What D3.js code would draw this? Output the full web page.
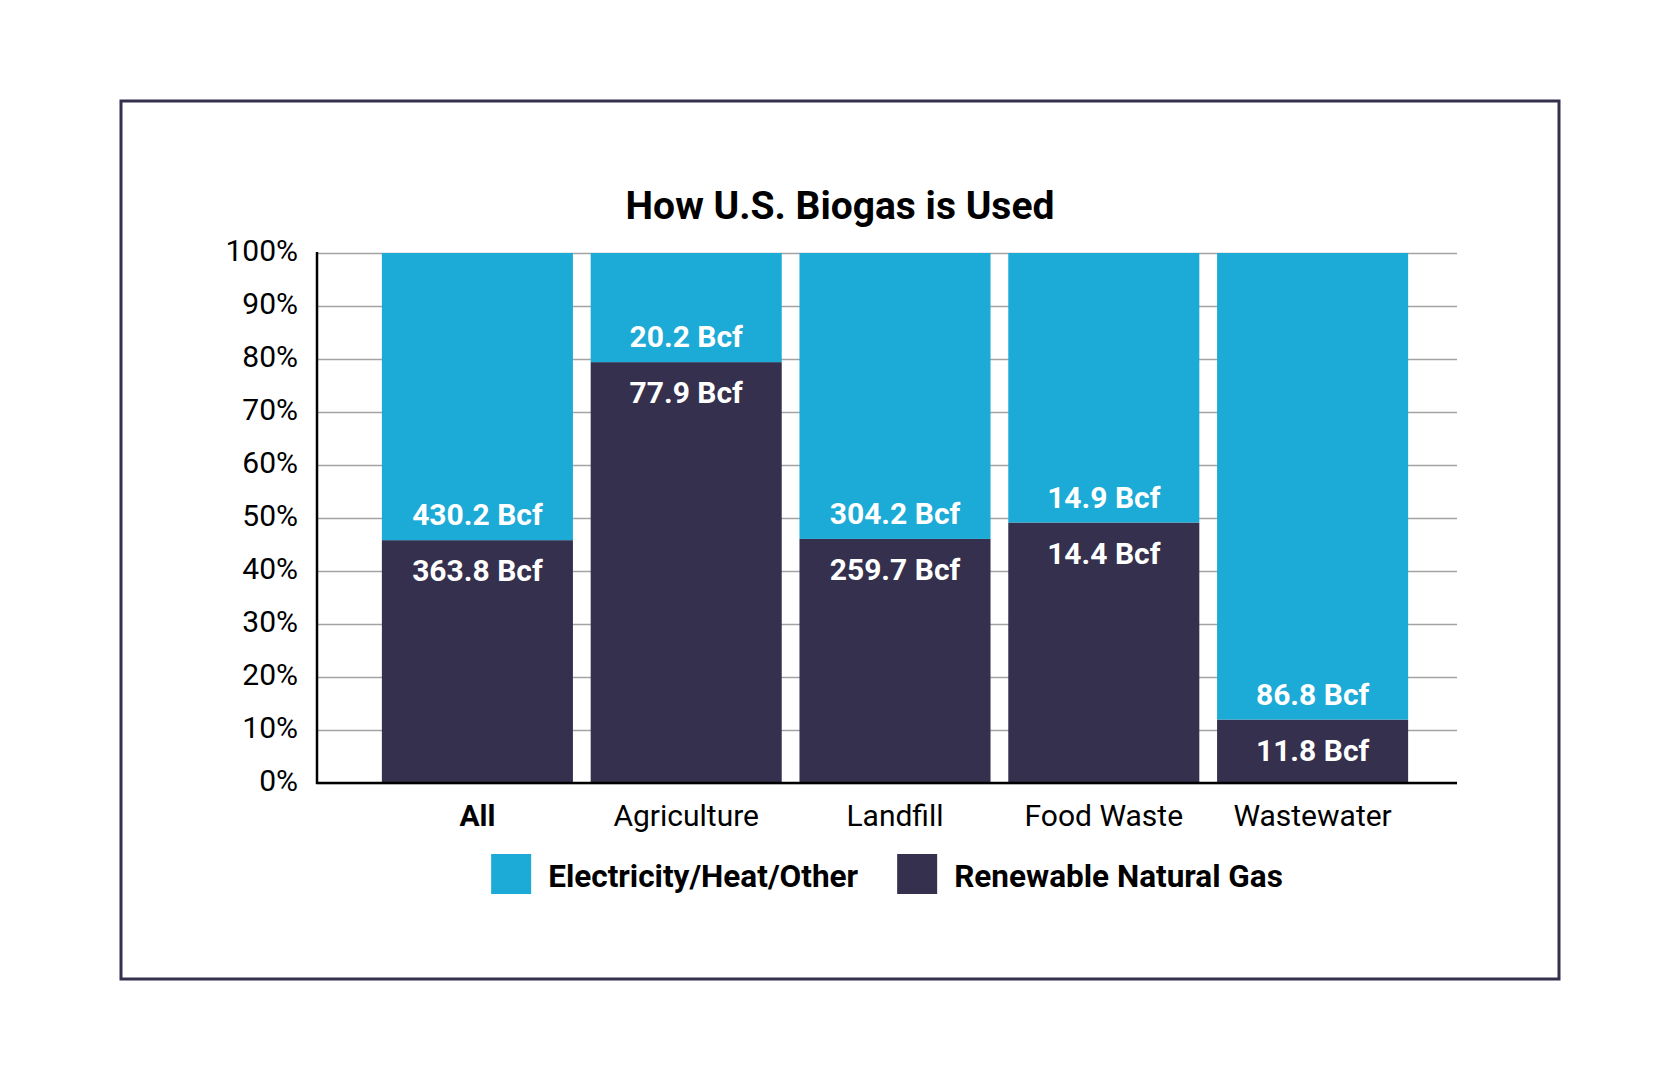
<!DOCTYPE html>
<html>
<head>
<meta charset="utf-8">
<script src="https://cdn.jsdelivr.net/npm/d3@7"></script>
<style>
  body { margin: 0; background: #fff; }
  text { font-family: Roboto, sans-serif; }
</style>
</head>
<body>
<svg id="chart" width="1680" height="1080"></svg>
<script>
var CATEGORIES = ["All", "Agriculture", "Landfill", "Food Waste", "Wastewater"];
var ELEC_BCF = [430.2, 20.2, 304.2, 14.9, 86.8];
var RNG_BCF = [363.8, 77.9, 259.7, 14.4, 11.8];
var SERIES = ["Electricity/Heat/Other", "Renewable Natural Gas"];
var Y_TICKS = [0, 0.1, 0.2, 0.3, 0.4, 0.5, 0.6, 0.7, 0.8, 0.9, 1];

var COLORS = { elec: "#1caad6", rng: "#34304d" };
var FRAME = { x: 121, y: 101, w: 1438, h: 878 };
var PLOT = { left: 317, right: 1457, top: 253, bottom: 783 };

var svg = d3.select("#chart");

var rows = CATEGORIES.map(function(c, i) {
    return { cat: c, rng: RNG_BCF[i], elec: ELEC_BCF[i] };
});

var stacked = d3.stack()
    .keys(["rng", "elec"])
    .offset(d3.stackOffsetExpand)(rows);

var x = d3.scaleBand()
    .domain(CATEGORIES)
    .range([373, 1417])
    .paddingInner(0.085)
    .paddingOuter(0.0425);

var y = d3.scaleLinear()
    .domain([0, 1])
    .range([PLOT.bottom, PLOT.top]);

// outer frame
svg.append("rect")
    .attr("x", FRAME.x)
    .attr("y", FRAME.y)
    .attr("width", FRAME.w)
    .attr("height", FRAME.h)
    .attr("fill", "none")
    .attr("stroke", "#34304d")
    .attr("stroke-width", 3);

svg.append("text")
    .attr("x", FRAME.x + FRAME.w / 2)
    .attr("y", 219)
    .attr("text-anchor", "middle")
    .style("font-size", "39px")
    .style("font-weight", "bold")
    .text("How U.S. Biogas is Used");

// grid
var grid = svg.append("g")
    .attr("class", "y-grid")
    .attr("transform", "translate(" + PLOT.left + " 0)")
    .call(d3.axisLeft(y).tickValues(Y_TICKS).tickSize(-(PLOT.right - PLOT.left)).tickFormat(""));
grid.select(".domain").remove();
grid.selectAll("line").attr("stroke", "#a3a3a3").attr("stroke-width", 1.5);

// y labels
var yAxis = svg.append("g")
    .attr("class", "y-axis")
    .attr("transform", "translate(" + PLOT.left + " 0)")
    .call(d3.axisLeft(y).tickValues(Y_TICKS).tickSize(0).tickPadding(19).tickFormat(d3.format(".0%")));
yAxis.select(".domain").remove();
yAxis.selectAll("text")
    .attr("dy", "0.26em")
    .style("font-size", "30px")
    .style("font-family", "Roboto, sans-serif")
    .attr("fill", "#000");

// bars
var layers = svg.selectAll("g.layer")
    .data(stacked)
    .enter()
    .append("g")
    .attr("class", "layer")
    .attr("fill", function(d) { return COLORS[d.key]; });

layers.selectAll("rect")
    .data(function(d) { return d; })
    .enter()
    .append("rect")
    .attr("x", function(d) { return x(d.data.cat); })
    .attr("width", x.bandwidth())
    .attr("y", function(d) { return y(d[1]); })
    .attr("height", function(d) { return y(d[0]) - y(d[1]); });

// value labels around the split
var split = stacked[0];
var labels = svg.append("g").attr("class", "values")
    .style("font-size", "30px")
    .style("font-weight", "bold")
    .attr("fill", "#fff")
    .attr("text-anchor", "middle");

labels.selectAll("text.elec")
    .data(split)
    .enter()
    .append("text")
    .attr("class", "elec")
    .attr("x", function(d) { return x(d.data.cat) + x.bandwidth() / 2; })
    .attr("y", function(d) { return y(d[1]) - 15; })
    .text(function(d) { return d.data.elec + " Bcf"; });

labels.selectAll("text.rng")
    .data(split)
    .enter()
    .append("text")
    .attr("class", "rng")
    .attr("x", function(d) { return x(d.data.cat) + x.bandwidth() / 2; })
    .attr("y", function(d) { return y(d[1]) + 41; })
    .text(function(d) { return d.data.rng + " Bcf"; });

// axis lines
svg.append("line")
    .attr("x1", PLOT.left).attr("x2", PLOT.left)
    .attr("y1", PLOT.top - 1).attr("y2", PLOT.bottom + 1)
    .attr("stroke", "#000").attr("stroke-width", 2.5);

svg.append("line")
    .attr("x1", PLOT.left - 1).attr("x2", PLOT.right)
    .attr("y1", PLOT.bottom).attr("y2", PLOT.bottom)
    .attr("stroke", "#000").attr("stroke-width", 2.5);

// category labels
svg.append("g").attr("class", "x-labels")
    .selectAll("text")
    .data(CATEGORIES)
    .enter()
    .append("text")
    .attr("x", function(d) { return x(d) + x.bandwidth() / 2; })
    .attr("y", 826)
    .attr("text-anchor", "middle")
    .style("font-size", "30px")
    .style("font-weight", function(d, i) { return i == 0 ? "bold" : "normal"; })
    .text(function(d) { return d; });

// legend, centred under the plot
var legend = svg.append("g").attr("class", "legend");
var keys = ["elec", "rng"];
var items = legend.selectAll("g")
    .data(SERIES)
    .enter()
    .append("g");

items.append("rect")
    .attr("width", 40)
    .attr("height", 40)
    .attr("y", 854)
    .attr("fill", function(d, i) { return COLORS[keys[i]]; });

items.append("text")
    .attr("x", 57)
    .attr("y", 887)
    .style("font-size", "31.5px")
    .style("font-weight", "bold")
    .text(function(d) { return d; });

var offset = 0;
var widths = [];
items.each(function() {
    widths.push(57 + d3.select(this).select("text").node().getComputedTextLength());
});
var total = widths[0] + 39 + widths[1];
var start = (PLOT.left + PLOT.right) / 2 - total / 2;
items.attr("transform", function(d, i) {
    var t = "translate(" + (start + offset) + " 0)";
    offset += widths[i] + 39;
    return t;
});
</script>
</body>
</html>
